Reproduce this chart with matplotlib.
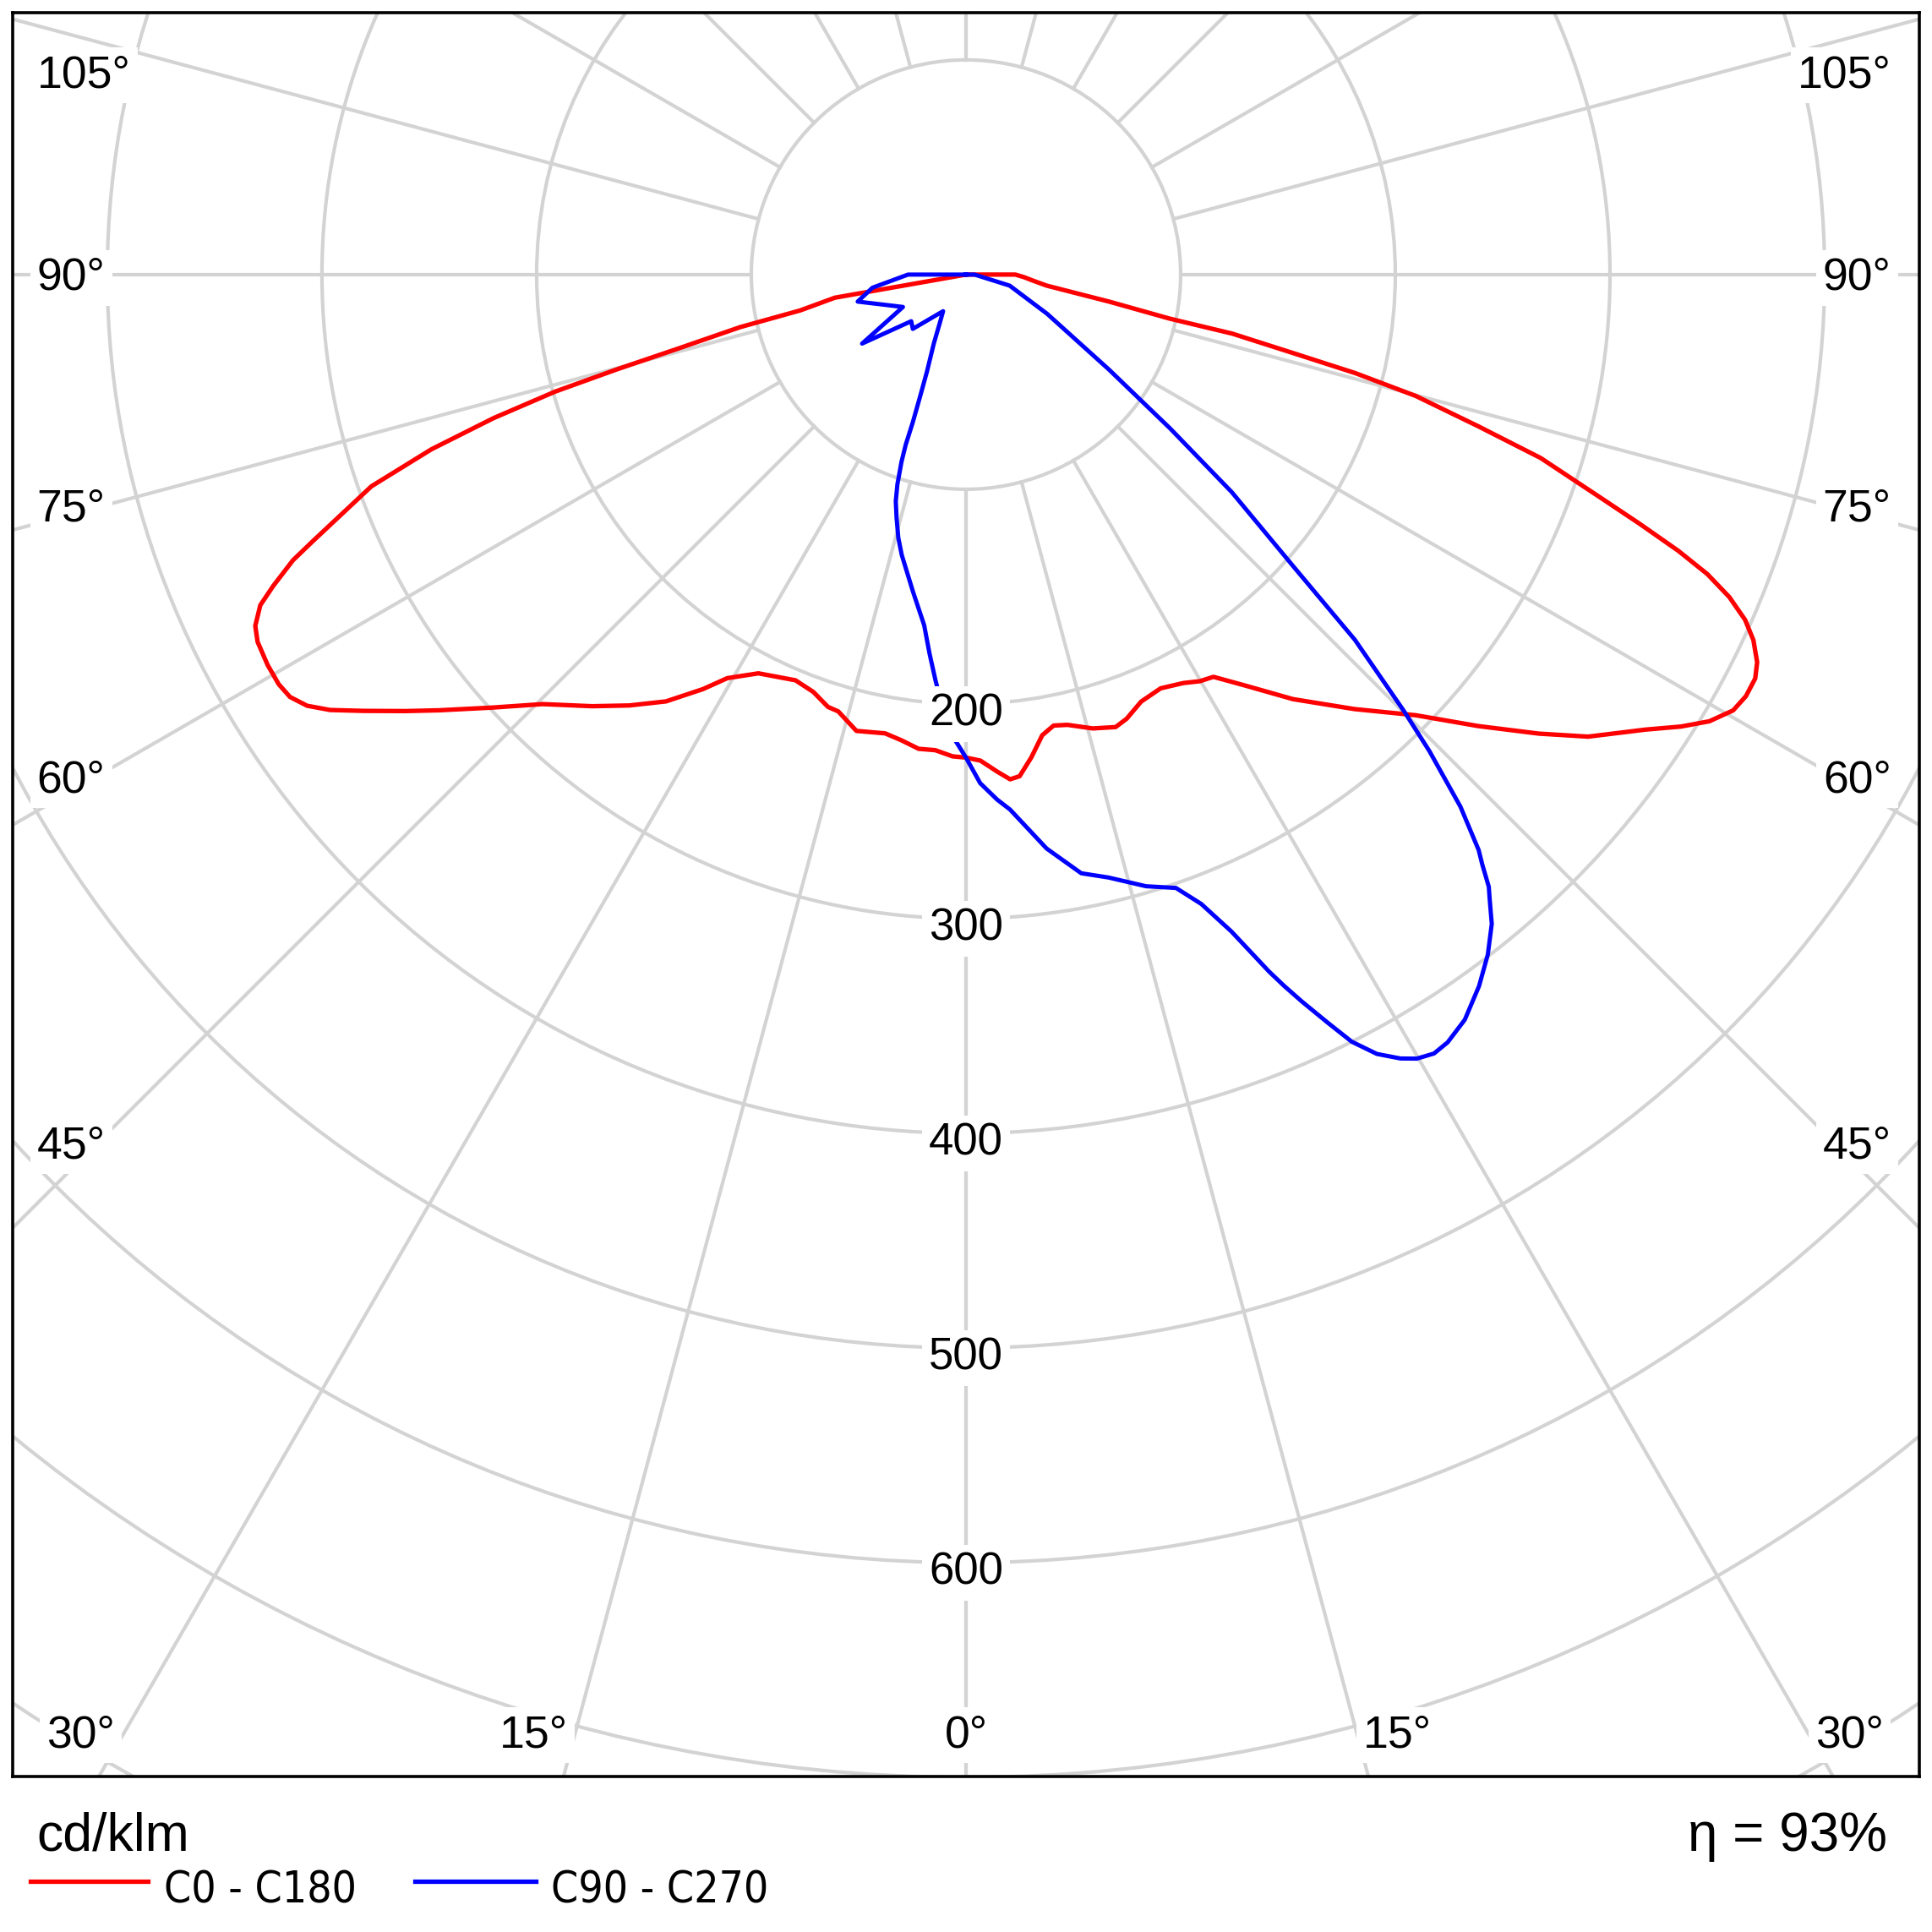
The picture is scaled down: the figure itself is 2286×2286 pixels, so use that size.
import numpy as np
import matplotlib
matplotlib.use("Agg")
import matplotlib.pyplot as plt
from matplotlib.patches import Circle
from matplotlib.lines import Line2D
from matplotlib import font_manager
from matplotlib.font_manager import FontProperties

# luminous intensity in cd/klm, gamma in degrees (0 = straight down)
c0_gamma = [0, 1.7, 3.6, 5.0, 6.1, 7.7, 9.4, 11.0, 12.7, 15.6, 18.3, 19.9, 22.3, 25.2,
            28.0, 29.9, 31.6, 34.1, 37.6, 41.8, 45.6, 48.6, 51.3, 53.4, 56.2, 57.7, 59.0,
            60.4, 61.6, 62.9, 63.9, 65.1, 66.1, 67.1, 68.0, 68.8, 69.7, 70.6, 72.3, 73.5,
            74.9, 75.8, 76.5, 77.5, 77.8, 79.3, 82.2, 85, 87.5, 90, 92.5, 180]
c0_int = [225, 226.5, 232, 236, 235, 227, 217.5, 214, 215, 219.5, 222, 220, 215, 213,
          215.5, 218.5, 220, 231, 249.6, 271.5, 293.4, 318, 342, 361, 381, 394, 404,
          411, 413, 413, 410.4, 404.4, 397, 386, 372.5, 356, 334.6, 314, 281, 249,
          217, 187, 157, 127, 97, 68, 38, 31, 27, 23, 0, 0]

c180_gamma = [0, 1.6, 3.7, 5.7, 7.9, 10.0, 13.5, 16.3, 17.7, 20.1, 22.8, 27.5, 30.6, 32.4,
              35.1, 38.0, 40.9, 44.6, 47.5, 50.4, 52.1, 54.1, 55.6, 56.8, 58.0, 59.2, 60.8,
              62.6, 63.7, 64.9, 65.8, 67.0, 67.8, 70.4, 71.9, 73.1, 74.1, 74.8, 75.6,
              76.9, 77.8, 80.0, 82.5, 180]
c180_int = [225, 224.5, 222, 222, 219, 217, 218.6, 212, 211.4, 207, 205, 209.4, 218.4, 228.7,
            243, 254.7, 266, 281, 298.5, 318.4, 331, 346.6, 359, 366.8, 371.3, 372.7, 372.7,
            371.7, 369.3, 363, 353.8, 340.6, 328.6, 294, 262, 230, 199, 169, 138,
            108, 79, 62, 0, 0]

c90_gamma = [0, 1.6, 3.4, 4.7, 8.0, 10.9, 13.3, 16.4, 18.9, 20.5, 22.0, 23.5, 24.1, 24.8,
             25.8, 26.7, 27.8, 29.0, 29.9, 31.0, 32.1, 33.8, 35.8, 37.5, 39.0, 40.0, 40.5,
             41.2, 41.7, 42.9, 44.2, 45.1, 46.8, 48.3, 50.7, 53.0, 56.4, 64.2, 75.8, 90, 92.5, 180]
c90_int = [225, 237, 245, 250, 270, 284, 288.6, 297, 302, 313, 330, 354, 363, 373,
           387, 400, 410.4, 417.5, 421.3, 423.3, 422.2, 417.7, 408.6, 399.3, 389.2, 379.5, 375,
           365.1, 359, 338.4, 309.7, 288, 248.5, 204, 160, 119, 80, 42, 21, 4, 0, 0]

c270_gamma = [0, 2.3, 4.3, 5.5, 6.8, 9.5, 12.9, 14.4, 15.9, 17.2, 18.1, 19.0, 19.5, 19.8,
              20.6, 21.9, 25.0, 28.2, 32, 44.4, 49.6, 56.4, 62.8, 76, 82, 90, 92.5, 180]
c270_int = [225, 211.5, 189.5, 177.3, 164.5, 149.7, 134, 126.7, 118, 110.6, 102.9, 92.3, 84.2, 73.2,
            61, 48.8, 35.5, 26.1, 20.1, 35.4, 33.5, 58.1, 33, 52, 44, 27, 0, 0]

ring_labels = [200, 300, 400, 500, 600]
efficiency = 93

GRID = "#d3d3d3"
RED = "#ff0000"
BLUE = "#0000ff"

names = {f.name for f in font_manager.fontManager.ttflist}
MAIN = "Liberation Sans" if "Liberation Sans" in names else "DejaVu Sans"


def narrow_font(size):
    # a condensed sans face if one is installed, else the main family a bit smaller
    prefs = ["Liberation Sans Narrow", "Noto Sans", "DejaVu Sans", "Open Sans", "Roboto"]
    for name in prefs:
        for f in font_manager.fontManager.ttflist:
            if f.name == name and f.style == "normal" and f.weight in (400, "normal") \
                    and ("Narrow" in name or f.stretch == "condensed"):
                return FontProperties(fname=f.fname, size=size)
    return FontProperties(family=MAIN, size=size * 0.9)


def half_plane(gamma, inten, side):
    g = np.radians(np.asarray(gamma, dtype=float))
    r = np.asarray(inten, dtype=float)
    return side * r * np.sin(g), -r * np.cos(g)


def pair_path(g_left, i_left, g_right, i_right):
    xl, yl = half_plane(g_left, i_left, -1)
    xr, yr = half_plane(g_right, i_right, 1)
    return np.concatenate([xl[::-1], xr]), np.concatenate([yl[::-1], yr])


W = 2286.0
fig = plt.figure(figsize=(22.86, 22.86), dpi=100)
ax = fig.add_axes([14.7 / W, 1 - 2101.7 / W, (2271 - 14.7) / W, (2101.7 - 15) / W])
ax.set_xlim(-444.2, 444.1)
ax.set_ylim(-699.5, 122.0)
ax.set_xticks([])
ax.set_yticks([])
for s in ax.spines.values():
    s.set_linewidth(2.6)
    s.set_color("black")
    s.set_zorder(8)

# grid: rings every 100 cd/klm, radial lines every 15 deg outside the first ring
for r in range(100, 1000, 100):
    ax.add_patch(Circle((0, 0), r, fill=False, ec=GRID, lw=3.0, zorder=1))
for a in range(0, 181, 15):
    t = np.radians(a)
    for side in (-1, 1):
        ax.plot([side * 100 * np.sin(t), side * 1100 * np.sin(t)],
                [-100 * np.cos(t), -1100 * np.cos(t)], color=GRID, lw=3.0, zorder=1)

x, y = pair_path(c180_gamma, c180_int, c0_gamma, c0_int)
ax.plot(x, y, color=RED, lw=3.8, zorder=3, solid_joinstyle="round")
x, y = pair_path(c270_gamma, c270_int, c90_gamma, c90_int)
ax.plot(x, y, color=BLUE, lw=3.6, zorder=4, solid_joinstyle="round")

box = dict(boxstyle="square,pad=0.15", fc="white", ec="none")
for r in ring_labels:
    ax.text(0, -r - 10.2, str(r), ha="center", va="baseline", fontsize=38,
            family=MAIN, bbox=box, zorder=6)

# angle labels around the frame
side_rows = [(105, 87.2), (90, -7.1), (75, -114.8), (60, -241.1), (45, -411.6)]
for ang, yb in side_rows:
    ax.text(-432.8, yb, f"{ang}°", ha="left", va="baseline", fontsize=38.5,
            family=MAIN, bbox=box, zorder=6)
    ax.text(431.0, yb, f"{ang}°", ha="right", va="baseline", fontsize=38.5,
            family=MAIN, bbox=box, zorder=6)
for ang, xc in [(30, -412.5), (15, -201.5), (0, 0), (15, 201.0), (30, 411.5)]:
    ax.text(xc, -686.0, f"{ang}°", ha="center", va="baseline", fontsize=38.5,
            family=MAIN, bbox=box, zorder=6)

# footer
fig.text(43 / W, 1 - 2190 / W, "cd/klm", ha="left", va="baseline", fontsize=45, family=MAIN)
fig.text(2233 / W, 1 - 2190 / W, f"η = {efficiency}%", ha="right", va="baseline",
         fontsize=46, family=MAIN)
fig.add_artist(Line2D([36 / W, 175 / W], [1 - 2226 / W] * 2, color=RED, lw=3.8))
fig.add_artist(Line2D([491 / W, 634 / W], [1 - 2226 / W] * 2, color=BLUE, lw=3.8))
fig.text(194 / W, 1 - 2252 / W, "C0 - C180", ha="left", va="baseline", fontproperties=narrow_font(37))
fig.text(652 / W, 1 - 2252 / W, "C90 - C270", ha="left", va="baseline", fontproperties=narrow_font(37))

fig.savefig("out.png", dpi=100, facecolor="white")
